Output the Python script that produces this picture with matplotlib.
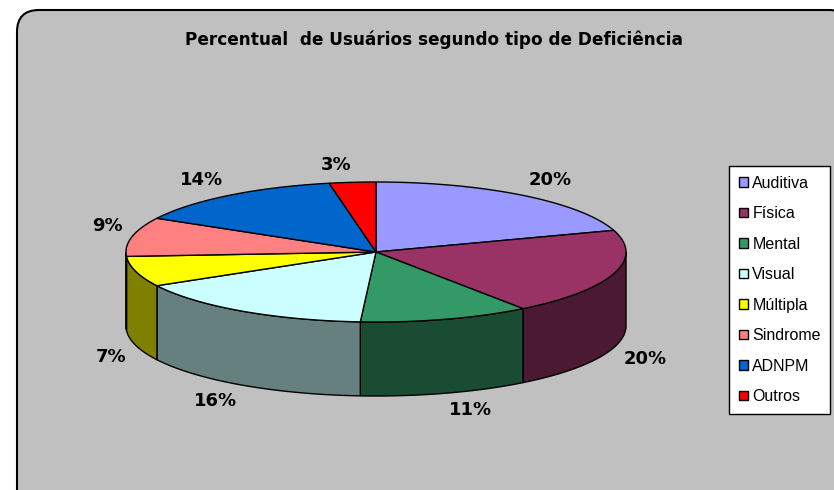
import numpy as np
import matplotlib.pyplot as plt
from matplotlib.patches import Polygon, FancyBboxPatch, Patch

categories = ['Auditiva', 'Física', 'Mental', 'Visual', 'Múltipla', 'Sindrome', 'ADNPM', 'Outros']
values = [20, 20, 11, 16, 7, 9, 14, 3]
colors = ['#9999FF', '#993366', '#339966', '#CCFFFF', '#FFFF00', '#FF8080', '#0066CC', '#FF0000']
title = 'Percentual  de Usuários segundo tipo de Deficiência'

W, H = 834, 490
fig = plt.figure(figsize=(W / 100, H / 100), dpi=100)
ax = fig.add_axes([0, 0, 1, 1])
ax.set_xlim(0, W)
ax.set_ylim(H, 0)
ax.axis('off')

# grey chart area with rounded border
bg = FancyBboxPatch((17, 10), W, H + 40, boxstyle='round,pad=0,rounding_size=22',
                    facecolor='#C0C0C0', edgecolor='black', linewidth=1.5, zorder=0)
ax.add_patch(bg)

ax.text(434, 40, title, ha='center', va='center', fontsize=12.2, fontweight='bold',
        family='DejaVu Sans')

# 3d pie geometry (pixels)
cx, cy, rx, ry, depth = 376, 252, 250, 70, 74


def pt(a, down=0):
    a = np.radians(a)
    return cx + rx * np.cos(a), cy - ry * np.sin(a) + down


def darker(c):
    r, g, b = [int(c[i:i + 2], 16) for i in (1, 3, 5)]
    return '#%02x%02x%02x' % (r // 2, g // 2, b // 2)


total = sum(values)
cum = np.concatenate([[0], np.cumsum(values)])
starts = 90 - 360 * cum[:-1] / total
ends = 90 - 360 * cum[1:] / total

# side walls (front half only)
for s, e, c in zip(starts, ends, colors):
    for shift in (0, -360, 360):
        a0, a1 = s + shift, e + shift
        lo, hi = max(a1, -180), min(a0, 0)
        if hi > lo:
            ang = np.linspace(hi, lo, 80)
            top = [pt(a) for a in ang]
            bot = [pt(a, depth) for a in ang[::-1]]
            ax.add_patch(Polygon(top + bot, closed=True, facecolor=darker(c),
                                 edgecolor='black', linewidth=1, zorder=2))

# top faces
for s, e, c in zip(starts, ends, colors):
    ang = np.linspace(s, e, 120)
    verts = [(cx, cy)] + [pt(a) for a in ang]
    ax.add_patch(Polygon(verts, closed=True, facecolor=c, edgecolor='black',
                         linewidth=1, zorder=3))

# percentage labels
for s, e, v in zip(starts, ends, values):
    m = (s + e) / 2
    a = np.radians(m)
    x, y = pt(m, depth if np.sin(a) < 0 else 0)
    x += 10 * np.cos(a)
    y -= 8 * np.sin(a)
    ha = 'left' if np.cos(a) >= 0 else 'right'
    va = 'bottom' if np.sin(a) > 0 else 'top'
    ax.text(x, y, '%d%%' % round(100 * v / total), ha=ha, va=va, fontsize=13,
            fontweight='bold', family='DejaVu Sans', zorder=5)

handles = [Patch(facecolor=c, edgecolor='black', linewidth=1) for c in colors]
leg = ax.legend(handles, categories, loc='upper left', bbox_to_anchor=(729 / W, 1 - 166 / H),
                bbox_transform=fig.transFigure, borderaxespad=0, frameon=True, fancybox=False,
                edgecolor='black', facecolor='white', framealpha=1,
                prop={'family': 'Liberation Sans', 'size': 11.5},
                handlelength=0.56, handleheight=0.56, handletextpad=0.3,
                labelspacing=0.97, borderpad=0.6)
leg.get_frame().set_linewidth(1)

fig.savefig('out.png', dpi=100)
